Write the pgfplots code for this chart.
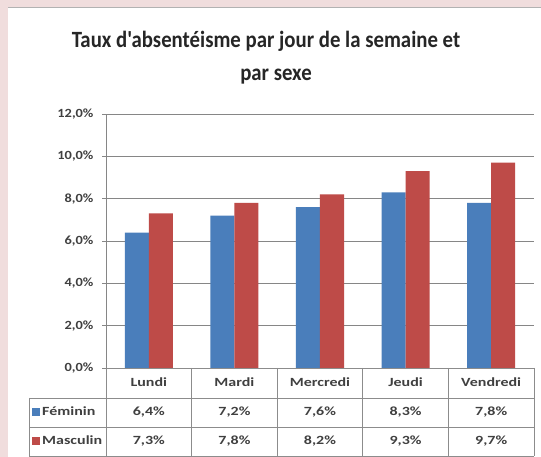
\documentclass[border=0pt]{standalone}
\usepackage{pgfplots}
\usepackage{pgfplotstable}
\pgfplotsset{compat=1.18}
\usepackage{fontspec}
\setmainfont{Carlito}
\newfontfamily\titlefont{Carlito}
\newfontfamily\tickfont{Carlito}[FakeStretch=1.15]
\newfontfamily\tabfont{Carlito}[FakeStretch=1.28]
\definecolor{pinkbg}{RGB}{240,221,221}
\definecolor{gridc}{RGB}{134,134,134}
\definecolor{tabc}{RGB}{140,140,140}
\definecolor{titlec}{RGB}{38,38,38}
\definecolor{tickc}{RGB}{64,64,64}
\definecolor{bblue}{RGB}{74,126,187}
\definecolor{rred}{RGB}{190,75,72}
\pgfplotstableread{
x fem masc
0 6.4 7.3
1 7.2 7.8
2 7.6 8.2
3 8.3 9.3
4 7.8 9.7
}\datatable
\begin{document}
\begin{tikzpicture}[x=1pt,y=1pt]
\useasboundingbox (0,0) rectangle (541,457);
\fill[pinkbg] (0,0) rectangle (541,457);
\fill[white] (8,0) rectangle (541,449);
\draw[gray!60, line width=1.5pt] (8,449.5) -- (541,449.5);
\node[anchor=base, inner sep=0, font=\titlefont\bfseries\fontsize{20.8}{22}\selectfont, text=titlec] at (266,409) {\scalebox{1}[1.12]{Taux d'absentéisme par jour de la semaine et}};
\node[anchor=base, inner sep=0, font=\titlefont\bfseries\fontsize{20.8}{22}\selectfont, text=titlec] at (276,376) {\scalebox{1}[1.12]{par sexe}};
\begin{axis}[at={(106pt,89pt)}, anchor=south west, scale only axis,
  width=428pt, height=254pt,
  ymin=0, ymax=12, xmin=-0.5, xmax=4.5,
  ybar=0pt, bar width=24pt,
  ytick={0,2,...,12}, xtick=\empty,
  ymajorgrids, grid style={gridc, line width=0.9pt},
  axis x line*=bottom, axis y line*=left,
  axis line style={-, gridc, line width=0.9pt},
  x axis line style={draw=none},
  tick align=outside, major tick length=4pt, tick style={gridc, line width=0.9pt},
  /pgf/number format/assume math mode=true,
  yticklabel={\pgfmathprintnumber[fixed,fixed zerofill,precision=1,use comma]{\tick}\%},
  yticklabel style={font=\tickfont\bfseries\fontsize{12.5}{12.5}\selectfont, text=tickc, xshift=-5pt},
  clip=false]
\addplot[fill=bblue, draw=none] table[x=x,y=fem]{\datatable};
\addplot[fill=rred, draw=none] table[x=x,y=masc]{\datatable};
\end{axis}
% data table
\begin{scope}[tabc, line width=0.9pt]
\draw (106,89) -- (534,89);
\draw (29,59) -- (534,59);
\draw (29,30) -- (534,30);
\draw (29,1) -- (534,1);
\draw (29,59) -- (29,1);
\foreach \xx in {106,191.6,277.2,362.8,448.4,534} {\draw (\xx,89) -- (\xx,1);}
\end{scope}
\begin{scope}[every node/.style={anchor=base, inner sep=0, text=tickc, font=\tabfont\bfseries\fontsize{12.5}{13}\selectfont}]
\node at (148.8,70) {Lundi};
\node at (234.4,70) {Mardi};
\node at (320,70) {Mercredi};
\node at (405.6,70) {Jeudi};
\node at (491.2,70) {Vendredi};
\node at (148.8,41) {6,4\%};
\node at (234.4,41) {7,2\%};
\node at (320,41) {7,6\%};
\node at (405.6,41) {8,3\%};
\node at (491.2,41) {7,8\%};
\node at (148.8,12) {7,3\%};
\node at (234.4,12) {7,8\%};
\node at (320,12) {8,2\%};
\node at (405.6,12) {9,3\%};
\node at (491.2,12) {9,7\%};
\node[anchor=base west] at (42,41) {Féminin};
\node[anchor=base west] at (42,12) {Masculin};
\end{scope}
\fill[bblue] (32,41) rectangle (40,49);
\fill[rred] (32,12) rectangle (40,20);
\end{tikzpicture}
\end{document}
